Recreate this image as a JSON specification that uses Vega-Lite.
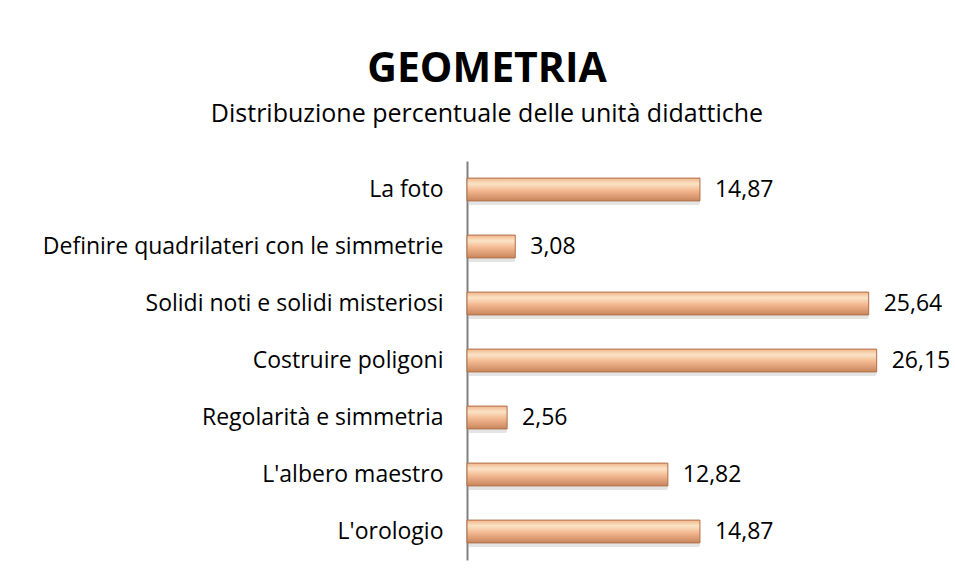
{
  "$schema": "https://vega.github.io/schema/vega-lite/v6.json",
  "autosize": "none",
  "width": 470,
  "height": 399,
  "padding": {"left": 467, "top": 161, "right": 18, "bottom": 19},
  "background": "white",
  "config": {
    "locale": {"number": {"decimal": ",", "thousands": ".", "grouping": [3], "currency": ["", " €"]}},
    "view": {"stroke": null},
    "font": "Open Sans"
  },
  "title": {
    "text": "GEOMETRIA",
    "subtitle": "Distribuzione percentuale delle unità didattiche",
    "anchor": "middle",
    "frame": "group",
    "dx": -215,
    "offset": 33,
    "font": "Open Sans",
    "fontSize": 41,
    "fontWeight": "bold",
    "color": "black",
    "subtitleFont": "Open Sans",
    "subtitleFontSize": 25,
    "subtitleColor": "black",
    "subtitlePadding": 11
  },
  "data": {
    "values": [
      {"unita": "La foto", "perc": 14.87},
      {"unita": "Definire quadrilateri con le simmetrie", "perc": 3.08},
      {"unita": "Solidi noti e solidi misteriosi", "perc": 25.64},
      {"unita": "Costruire poligoni", "perc": 26.15},
      {"unita": "Regolarità e simmetria", "perc": 2.56},
      {"unita": "L'albero maestro", "perc": 12.82},
      {"unita": "L'orologio", "perc": 14.87}
    ]
  },
  "encoding": {
    "y": {
      "field": "unita",
      "type": "nominal",
      "sort": null,
      "scale": {"paddingInner": 0.6, "paddingOuter": 0.3},
      "axis": {
        "title": null,
        "ticks": false,
        "domainColor": "#808080",
        "domainWidth": 2,
        "labelPadding": 24,
        "labelFontSize": 23,
        "labelFont": "Open Sans",
        "labelColor": "black",
        "labelLimit": 460
      }
    },
    "x": {
      "field": "perc",
      "type": "quantitative",
      "scale": {"domain": [0, 30]},
      "axis": null
    }
  },
  "layer": [
    {
      "mark": {"type": "bar", "color": "#d9d9d9", "opacity": 0.7, "yOffset": 4, "xOffset": 2, "cornerRadius": 2}
    },
    {
      "mark": {
        "type": "bar",
        "stroke": "#b07048",
        "strokeWidth": 1,
        "color": {
          "gradient": "linear",
          "x1": 0, "y1": 0, "x2": 0, "y2": 1,
          "stops": [
            {"offset": 0, "color": "#f2b58c"},
            {"offset": 0.25, "color": "#fbe3c6"},
            {"offset": 0.55, "color": "#f3b890"},
            {"offset": 1, "color": "#c9855c"}
          ]
        }
      }
    },
    {
      "mark": {"type": "text", "align": "left", "dx": 15, "fontSize": 23, "font": "Open Sans", "color": "black"},
      "encoding": {"text": {"field": "perc", "type": "quantitative", "format": ".2f"}}
    }
  ]
}
